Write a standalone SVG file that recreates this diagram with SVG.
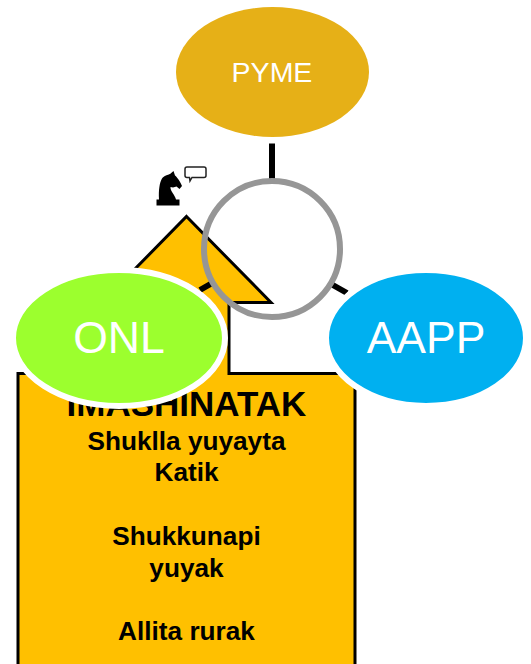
<svg xmlns="http://www.w3.org/2000/svg" width="531" height="664" viewBox="0 0 531 664">
<style>
text{font-family:"Liberation Sans",Arial,sans-serif;text-anchor:middle}
.b{font-weight:700;font-size:26.200px;fill:#000}
.n{font-size:44.500px;fill:#fff}
.c{stroke:#000;stroke-width:6;fill:none}
</style>
<rect width="531" height="664" fill="#fff"/>
<g id="imashinatak">
<path d="M186.500 216.500L271 302.500H229V373.500H355V680H18V373.500H144V302.500H102Z" fill="#ffc000" stroke="#000" stroke-width="3"/>
<text class="b" x="186.500" y="416" style="font-size:35px">IMASHINATAK</text>
<text class="b" x="186.500" y="450">Shuklla yuyayta</text>
<text class="b" x="186.500" y="481">Katik</text>
<text class="b" x="186.500" y="545">Shukkunapi</text>
<text class="b" x="186.500" y="577">yuyak</text>
<text class="b" x="186.500" y="640">Allita rurak</text>
</g>
<g id="connectors">
<path class="c" d="M272 143.500V182M200 290L214 282M331 284L347 293"/>
</g>
<g id="hub"><circle cx="272" cy="249" r="68" fill="none" stroke="#969696" stroke-width="6"/></g>
<g id="pyme"><ellipse cx="272.500" cy="72" rx="96.500" ry="65" fill="#e6b017"/><text x="272" y="82" style="font-size:28.500px;fill:#fff">PYME</text></g>
<g id="onl"><ellipse cx="119" cy="338" rx="106" ry="68" fill="#9cff2e" stroke="#fff" stroke-width="6"/><text class="n" x="119" y="353">ONL</text></g>
<g id="aapp"><ellipse cx="426" cy="338" rx="100" ry="68" fill="#00b0f0" stroke="#fff" stroke-width="6"/><text class="n" x="426" y="353">AAPP</text></g>
<g id="knight">
<path d="M156.500 199.500H179.500V205.500H156.500ZM159 199.500C158.500 190 159.500 183 162 178.500C164 175.500 168 175 170 174L173.500 171L175 175.500C177.500 177.500 180.500 182 182 186L179.500 189L176.500 186.500L173 187.500L170.500 187C170 191 175 195 176 199.500Z" fill="#000"/>
<path d="M187 167H204Q206 167 206 169V175.500Q206 177.500 204 177.500H192L190 181L189.500 177.500H187Q185 177.500 185 175.500V169Q185 167 187 167Z" fill="#fff" stroke="#222" stroke-width="1.500"/>
</g>
</svg>
